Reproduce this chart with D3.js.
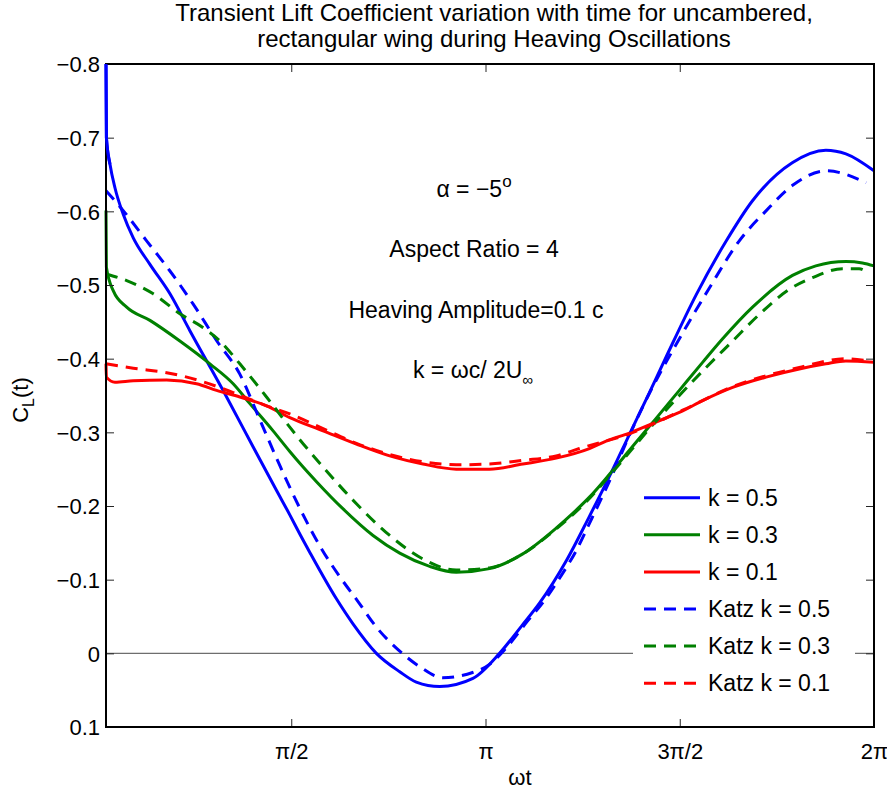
<!DOCTYPE html>
<html>
<head>
<meta charset="utf-8">
<script src="https://cdn.jsdelivr.net/npm/d3@7"></script>
<style>
  body { margin: 0; background: #fff; }
  text { font-family: "Liberation Sans", Arial, Helvetica, sans-serif; fill: #000; }
</style>
</head>
<body>
<svg id="chart" width="887" height="793"></svg>
<script>
// Transient lift coefficient C_L(t) against phase ωt (rad) for a heaving wing.
// Each entry is [ωt, C_L].
const clK05 = [[0.0727,-0.80],[0.076,-0.700],[0.105,-0.664],[0.145,-0.632],[0.212,-0.596],[0.293,-0.564],
  [0.428,-0.528],[0.590,-0.488],[0.751,-0.438],[1.048,-0.348],[1.263,-0.280],[1.452,-0.221],[1.559,-0.188],
  [1.640,-0.162],[1.721,-0.137],[1.936,-0.074],[2.070,-0.040],[2.259,0.000],[2.448,0.025],[2.582,0.039],
  [2.771,0.045],[3.040,0.034],[3.255,0.000],[3.433,-0.037],[3.578,-0.068],[3.796,-0.126],[3.982,-0.186],
  [4.120,-0.232],[4.305,-0.297],[4.467,-0.354],[4.604,-0.403],[4.846,-0.487],[5.089,-0.560],[5.299,-0.614],
  [5.622,-0.666],[5.894,-0.683],[6.056,-0.678],[6.2832,-0.655]];

const clK03 = [[0.0727,-0.601],[0.076,-0.524],[0.132,-0.492],[0.240,-0.470],[0.428,-0.452],[0.670,-0.424],
  [0.913,-0.393],[1.101,-0.366],[1.236,-0.339],[1.424,-0.302],[1.559,-0.274],[1.640,-0.258],[1.775,-0.233],
  [1.990,-0.196],[2.232,-0.160],[2.448,-0.136],[2.690,-0.118],[2.905,-0.110],[3.174,-0.115],[3.443,-0.135],
  [3.713,-0.170],[3.847,-0.190],[3.982,-0.212],[4.144,-0.243],[4.332,-0.281],[4.521,-0.319],[4.709,-0.357],
  [4.897,-0.395],[5.059,-0.427],[5.301,-0.470],[5.624,-0.513],[5.813,-0.526],[6.056,-0.532],[6.190,-0.530],
  [6.2832,-0.526]];

const clK01 = [[0.0727,-0.393],[0.076,-0.375],[0.145,-0.368],[0.293,-0.370],[0.563,-0.371],[0.805,-0.366],
  [0.967,-0.357],[1.155,-0.348],[1.371,-0.336],[1.559,-0.320],[1.828,-0.302],[2.098,-0.284],[2.367,-0.268],
  [2.636,-0.257],[2.905,-0.250],[3.174,-0.250],[3.443,-0.257],[3.713,-0.265],[3.982,-0.278],[4.117,-0.288],
  [4.305,-0.299],[4.521,-0.314],[4.736,-0.329],[4.897,-0.343],[5.140,-0.361],[5.410,-0.375],[5.679,-0.386],
  [5.894,-0.393],[6.056,-0.397],[6.2832,-0.395]];

const katzK05 = [[0.0727,-0.628],[0.212,-0.601],[0.401,-0.560],[0.590,-0.519],[0.778,-0.474],[0.969,-0.424],
  [1.155,-0.379],[1.317,-0.317],[1.478,-0.255],[1.640,-0.197],[1.801,-0.146],[1.963,-0.104],[2.108,-0.071],
  [2.262,-0.035],[2.448,-0.003],[2.609,0.018],[2.795,0.033],[3.037,0.026],[3.174,0.015],[3.312,-0.008],
  [3.473,-0.042],[3.619,-0.072],[3.740,-0.102],[3.877,-0.140],[3.998,-0.182],[4.120,-0.225],[4.330,-0.305],
  [4.467,-0.353],[4.685,-0.420],[4.952,-0.496],[5.194,-0.560],[5.412,-0.601],[5.622,-0.635],[5.897,-0.655],
  [6.220,-0.639]];

const katzK03 = [[0.0727,-0.515],[0.240,-0.506],[0.455,-0.488],[0.670,-0.461],[0.859,-0.442],[0.994,-0.424],
  [1.155,-0.393],[1.371,-0.348],[1.559,-0.307],[1.640,-0.290],[1.828,-0.253],[2.098,-0.203],[2.367,-0.160],
  [2.636,-0.128],[2.905,-0.113],[3.174,-0.116],[3.443,-0.135],[3.713,-0.169],[3.928,-0.201],[4.225,-0.257],
  [4.467,-0.305],[4.709,-0.350],[4.925,-0.388],[5.140,-0.424],[5.355,-0.460],[5.598,-0.494],[5.786,-0.510],
  [6.028,-0.522],[6.163,-0.522],[6.244,-0.515]];

const katzK01 = [[0.0727,-0.393],[0.293,-0.387],[0.563,-0.381],[0.832,-0.370],[1.101,-0.354],[1.371,-0.336],
  [1.559,-0.325],[1.828,-0.305],[2.098,-0.285],[2.367,-0.270],[2.636,-0.260],[2.905,-0.256],[3.174,-0.257],
  [3.443,-0.262],[3.713,-0.268],[3.901,-0.278],[4.305,-0.298],[4.736,-0.330],[5.140,-0.362],[5.679,-0.388],
  [6.056,-0.400],[6.233,-0.397]];

const seriesNames = ["k = 0.5", "k = 0.3", "k = 0.1", "Katz k = 0.5", "Katz k = 0.3", "Katz k = 0.1"];
const seriesData = [clK05, clK03, clK01, katzK05, katzK03, katzK01];
const seriesColors = ["#0000ff", "#008000", "#ff0000", "#0000ff", "#008000", "#ff0000"];
const seriesDashed = [false, false, false, true, true, true];

const xTickValues = [Math.PI / 2, Math.PI, 1.5 * Math.PI, 2 * Math.PI];
const xTickLabels = ["π/2", "π", "3π/2", "2π"];
const yTickValues = [-0.8, -0.7, -0.6, -0.5, -0.4, -0.3, -0.2, -0.1, 0, 0.1];

const titleLines = ["Transient Lift Coefficient variation with time for uncambered,",
                    "rectangular wing during Heaving Oscillations"];
const xDomain = [0.0727, 2 * Math.PI];
const yDomain = [-0.8, 0.1];

// ---- layout ----
const svg = d3.select("#chart");
const plot = { left: 106, right: 874, top: 64, bottom: 727 };

const x = d3.scaleLinear().domain(xDomain).range([plot.left, plot.right]);
const y = d3.scaleLinear().domain(yDomain).range([plot.top, plot.bottom]);

svg.append("rect").attr("width", 887).attr("height", 793).attr("fill", "#fff");

// reference line at C_L = 0
svg.append("line")
  .attr("x1", plot.left).attr("x2", plot.right)
  .attr("y1", y(0)).attr("y2", y(0))
  .attr("stroke", "#6e6e6e").attr("stroke-width", 1.3);

// curves
const line = d3.line().x(d => x(d[0])).y(d => y(d[1])).curve(d3.curveMonotoneX);
const clipId = "plotClip";
svg.append("clipPath").attr("id", clipId).append("rect")
  .attr("x", plot.left - 2).attr("y", plot.top - 1)
  .attr("width", plot.right - plot.left + 4).attr("height", plot.bottom - plot.top + 2);

const curveG = svg.append("g").attr("clip-path", `url(#${clipId})`);
seriesData.forEach((data, i) => {
  curveG.append("path")
    .datum(data)
    .attr("d", line)
    .attr("fill", "none")
    .attr("stroke", seriesColors[i])
    .attr("stroke-width", 3)
    .attr("stroke-linejoin", "round")
    .attr("stroke-dasharray", seriesDashed[i] ? "12,8" : null);
});

// axes (ticks pointing inward on all four sides)
const fmtY = d => d === 0 ? "0" : d3.format(".1f")(d);
const styleAxis = g => {
  g.select(".domain").remove();
  g.selectAll(".tick line").attr("stroke", "#262626").attr("stroke-width", 1);
  g.selectAll(".tick text").attr("fill", "#000")
    .style("font-family", "\"Liberation Sans\", Arial, sans-serif");
};

svg.append("g").attr("transform", `translate(${plot.left},0)`)
  .call(d3.axisLeft(y).tickValues(yTickValues).tickFormat(fmtY).tickSizeInner(-8).tickSizeOuter(0).tickPadding(6))
  .call(styleAxis)
  .call(g => g.selectAll(".tick text").attr("font-size", 22).attr("dy", "0.36em"));

svg.append("g").attr("transform", `translate(${plot.right},0)`)
  .call(d3.axisRight(y).tickValues(yTickValues).tickFormat("").tickSizeInner(-8).tickSizeOuter(0))
  .call(styleAxis);

svg.append("g").attr("transform", `translate(0,${plot.bottom})`)
  .call(d3.axisBottom(x).tickValues(xTickValues).tickFormat((d, i) => xTickLabels[i]).tickSizeInner(-8).tickSizeOuter(0).tickPadding(16))
  .call(styleAxis)
  .call(g => g.selectAll(".tick text").attr("font-size", 22))
  .call(g => g.selectAll(".tick").filter(d => d === 2 * Math.PI).select("line").remove());

svg.append("g").attr("transform", `translate(0,${plot.top})`)
  .call(d3.axisTop(x).tickValues(xTickValues.slice(0, 3)).tickFormat("").tickSizeInner(-8).tickSizeOuter(0))
  .call(styleAxis);

// axes box
svg.append("rect")
  .attr("x", plot.left).attr("y", plot.top)
  .attr("width", plot.right - plot.left).attr("height", plot.bottom - plot.top)
  .attr("fill", "none").attr("stroke", "#000").attr("stroke-width", 2);

// leading spike of k = 0.5 sits on top of the left spine
svg.append("path").datum(clK05.slice(0, 3)).attr("d", line)
  .attr("fill", "none").attr("stroke", seriesColors[0]).attr("stroke-width", 3);

// title
svg.append("g").selectAll("text").data(titleLines).join("text")
  .attr("x", 494).attr("y", (d, i) => 21 + i * 26)
  .attr("text-anchor", "middle").attr("font-size", 24)
  .text(d => d);

// axis labels
svg.append("text")
  .attr("x", 520).attr("y", 785).attr("text-anchor", "middle").attr("font-size", 22)
  .text("ωt");

const yLab = svg.append("text")
  .attr("transform", "translate(28,400) rotate(-90)")
  .attr("text-anchor", "middle").attr("font-size", 22);
yLab.append("tspan").text("C");
yLab.append("tspan").attr("font-size", 16).attr("dy", 6).text("L");
yLab.append("tspan").attr("dy", -6).text("(t)");

// parameter annotations
const notes = svg.append("g").attr("text-anchor", "middle").attr("font-size", 23);
const alpha = notes.append("text").attr("x", 474).attr("y", 197);
alpha.append("tspan").text("α = −5");
alpha.append("tspan").attr("font-size", 17).attr("dy", -10).text("o");
notes.append("text").attr("x", 474).attr("y", 257).text("Aspect Ratio = 4");
notes.append("text").attr("x", 476).attr("y", 318).text("Heaving Amplitude=0.1 c");
const kText = notes.append("text").attr("x", 473).attr("y", 378);
kText.append("tspan").text("k = ωc/ 2U");
kText.append("tspan").attr("font-size", 15).attr("dy", 7).text("∞");

// legend
const legend = svg.append("g");
legend.append("rect")
  .attr("x", 633).attr("y", 478).attr("width", 222).attr("height", 224)
  .attr("fill", "#fff");
seriesNames.forEach((name, i) => {
  const cy = 497.7 + i * 37.1;
  legend.append("line")
    .attr("x1", 644).attr("x2", 700).attr("y1", cy).attr("y2", cy)
    .attr("stroke", seriesColors[i]).attr("stroke-width", 3)
    .attr("stroke-dasharray", seriesDashed[i] ? "12,8" : null);
  legend.append("text")
    .attr("x", 708).attr("y", cy + 8).attr("font-size", 23)
    .text(name);
});
</script>
</body>
</html>
